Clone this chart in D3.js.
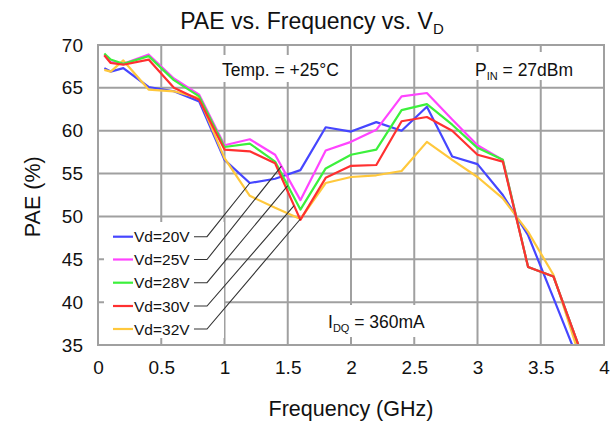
<!DOCTYPE html>
<html>
<head>
<meta charset="utf-8">
<script src="https://cdn.jsdelivr.net/npm/d3@7/dist/d3.min.js"></script>
<style>
  html, body { margin: 0; padding: 0; background: #fff; }
  svg { display: block; font-family: "Liberation Sans", Arial, sans-serif; }
</style>
</head>
<body>
<svg id="chart" width="615" height="425"></svg>
<script>
// Frequency points (GHz)
const freqs = [0.05, 0.1, 0.2, 0.4, 0.6, 0.8, 1.0, 1.2, 1.4, 1.6, 1.8, 2.0, 2.2, 2.4, 2.6, 2.8, 3.0, 3.2, 3.4, 3.6, 3.8];

// PAE (%) for each drain voltage
const pae20 = [67.3, 66.9, 67.3, 65.1, 64.6, 63.4, 56.6, 53.9, 54.4, 55.4, 60.4, 59.9, 61.0, 60.0, 62.8, 57.0, 56.1, 52.5, 47.8, 40.5, 33.1];
const pae25 = [68.8, 68.0, 67.8, 68.9, 66.1, 64.2, 58.3, 59.0, 57.2, 51.9, 57.7, 58.7, 60.1, 64.0, 64.4, 61.3, 58.3, 56.6, 44.1, 43.0, 34.9];
const pae28 = [69.0, 68.3, 67.8, 68.7, 65.9, 64.0, 58.1, 58.5, 56.4, 50.8, 55.6, 57.2, 57.8, 62.4, 63.1, 60.7, 58.0, 56.6, 44.1, 43.0, 34.9];
const pae30 = [68.8, 67.9, 67.7, 68.3, 65.0, 63.6, 57.8, 57.6, 56.2, 49.6, 54.5, 55.9, 56.0, 61.1, 61.6, 60.0, 57.2, 56.4, 44.1, 43.0, 34.9];
const pae32 = [67.1, 66.9, 68.2, 64.8, 64.6, 63.8, 56.8, 52.4, 51.0, 49.7, 53.9, 54.6, 54.8, 55.3, 58.7, 56.6, 54.6, 52.1, 48.2, 43.2, 34.0];

const seriesNames = ["Vd=20V", "Vd=25V", "Vd=28V", "Vd=30V", "Vd=32V"];
const seriesColors = ["#4646ff", "#ff44ff", "#3cf03c", "#ff3030", "#ffc83c"];
// frequency where each legend leader line meets its curve
const leaderFreqs = [1.2, 1.45, 1.5, 1.55, 1.6];

const xTicks = [0, 0.5, 1, 1.5, 2, 2.5, 3, 3.5, 4];
const xTickLabels = ["0", "0.5", "1", "1.5", "2", "2.5", "3", "3.5", "4"];
const yTicks = [35, 40, 45, 50, 55, 60, 65, 70];

const allSeries = [pae20, pae25, pae28, pae30, pae32];

const svg = d3.select("#chart");
const x = d3.scaleLinear().domain([0, 4]).range([98, 604]);
const y = d3.scaleLinear().domain([35, 70]).range([345, 45]);

const gridColor = "#a0a0a0";

// grid
const grid = svg.append("g");
grid.selectAll("line.v").data(xTicks).join("line")
  .attr("x1", d => x(d)).attr("x2", d => x(d))
  .attr("y1", y(35)).attr("y2", y(70))
  .attr("stroke", gridColor).attr("stroke-width", 2);
grid.selectAll("line.h").data(yTicks).join("line")
  .attr("x1", x(0)).attr("x2", x(4))
  .attr("y1", d => y(d)).attr("y2", d => y(d))
  .attr("stroke", gridColor).attr("stroke-width", 2);

// white panels behind annotation text and legend
const panels = [[210, 55, 135, 27], [468, 52, 122, 28], [320, 305, 117, 32], [104, 222, 120, 116]];
svg.append("g").selectAll("rect").data(panels).join("rect")
  .attr("x", d => d[0]).attr("y", d => d[1]).attr("width", d => d[2]).attr("height", d => d[3])
  .attr("fill", "#fff");

// axes labels (tick text only)
const xAxis = d3.axisBottom(x).tickValues(xTicks).tickFormat((d, i) => xTickLabels[i]).tickSize(0).tickPadding(16);
const gx = svg.append("g").attr("transform", `translate(0,${y(35)})`).call(xAxis);
gx.select(".domain").remove();
gx.selectAll("text").attr("font-size", 19).attr("fill", "#111").attr("font-family", "Liberation Sans, Arial, sans-serif");

const yAxis = d3.axisLeft(y).tickValues(yTicks).tickSize(0).tickPadding(15);
const gy = svg.append("g").attr("transform", `translate(${x(0)},0)`).call(yAxis);
gy.select(".domain").remove();
gy.selectAll("text").attr("font-size", 19).attr("fill", "#111").attr("font-family", "Liberation Sans, Arial, sans-serif");

// data lines
svg.append("clipPath").attr("id", "plotClip").append("rect")
  .attr("x", x(0)).attr("y", y(70)).attr("width", x(4) - x(0)).attr("height", y(35) - y(70));

const line = d3.line().x((d, i) => x(freqs[i])).y(d => y(d));
const drawOrder = [0, 4, 1, 2, 3];
svg.append("g").attr("clip-path", "url(#plotClip)")
  .selectAll("path").data(drawOrder).join("path")
  .attr("d", k => line(allSeries[k]))
  .attr("fill", "none")
  .attr("stroke", k => seriesColors[k])
  .attr("stroke-width", 2.2)
  .attr("stroke-linejoin", "round");

// frame
svg.append("rect")
  .attr("x", x(0)).attr("y", y(70)).attr("width", x(4) - x(0)).attr("height", y(35) - y(70))
  .attr("fill", "none").attr("stroke", gridColor).attr("stroke-width", 2);

// legend with leader lines
const legendY = [236.7, 259.5, 282.7, 306, 329];
function valueAt(series, f) {
  const interp = d3.scaleLinear().domain(freqs).range(series);
  return interp(f);
}
const legend = svg.append("g");
seriesNames.forEach((name, k) => {
  const ly = legendY[k];
  legend.append("line")
    .attr("x1", 113).attr("x2", 133).attr("y1", ly).attr("y2", ly)
    .attr("stroke", seriesColors[k]).attr("stroke-width", 2.2);
  legend.append("text")
    .attr("x", 134).attr("y", ly + 5.5)
    .attr("font-size", 15.5).attr("fill", "#111")
    .text(name);
  const tf = leaderFreqs[k];
  const tx = x(tf), ty = y(valueAt(allSeries[k], tf));
  legend.append("polyline")
    .attr("points", `${194},${ly} ${207},${ly} ${tx},${ty}`)
    .attr("fill", "none").attr("stroke", "#333").attr("stroke-width", 1.1);
});

// annotations
svg.append("text").attr("x", 222).attr("y", 76).attr("font-size", 17.5).attr("fill", "#111")
  .text("Temp. = +25°C");

const pin = svg.append("text").attr("x", 475).attr("y", 76).attr("font-size", 17.5).attr("fill", "#111");
pin.append("tspan").text("P");
pin.append("tspan").attr("font-size", 11).attr("dy", 4).text("IN");
pin.append("tspan").attr("dy", -4).text(" = 27dBm");

const idq = svg.append("text").attr("x", 328).attr("y", 328).attr("font-size", 17.5).attr("fill", "#111");
idq.append("tspan").text("I");
idq.append("tspan").attr("font-size", 11).attr("dy", 4).text("DQ");
idq.append("tspan").attr("dy", -4).text(" = 360mA");

// title
const title = svg.append("text").attr("x", 312).attr("y", 29).attr("text-anchor", "middle")
  .attr("font-size", 23).attr("fill", "#111");
title.append("tspan").text("PAE vs. Frequency vs. V");
title.append("tspan").attr("font-size", 15).attr("dy", 5).text("D");

// axis titles
svg.append("text").attr("x", 351).attr("y", 416).attr("text-anchor", "middle")
  .attr("font-size", 21.5).attr("fill", "#111").text("Frequency (GHz)");
svg.append("text").attr("transform", `translate(40,${y(52.3)}) rotate(-90)`).attr("text-anchor", "middle")
  .attr("font-size", 21.5).attr("fill", "#111").text("PAE (%)");
</script>
</body>
</html>
